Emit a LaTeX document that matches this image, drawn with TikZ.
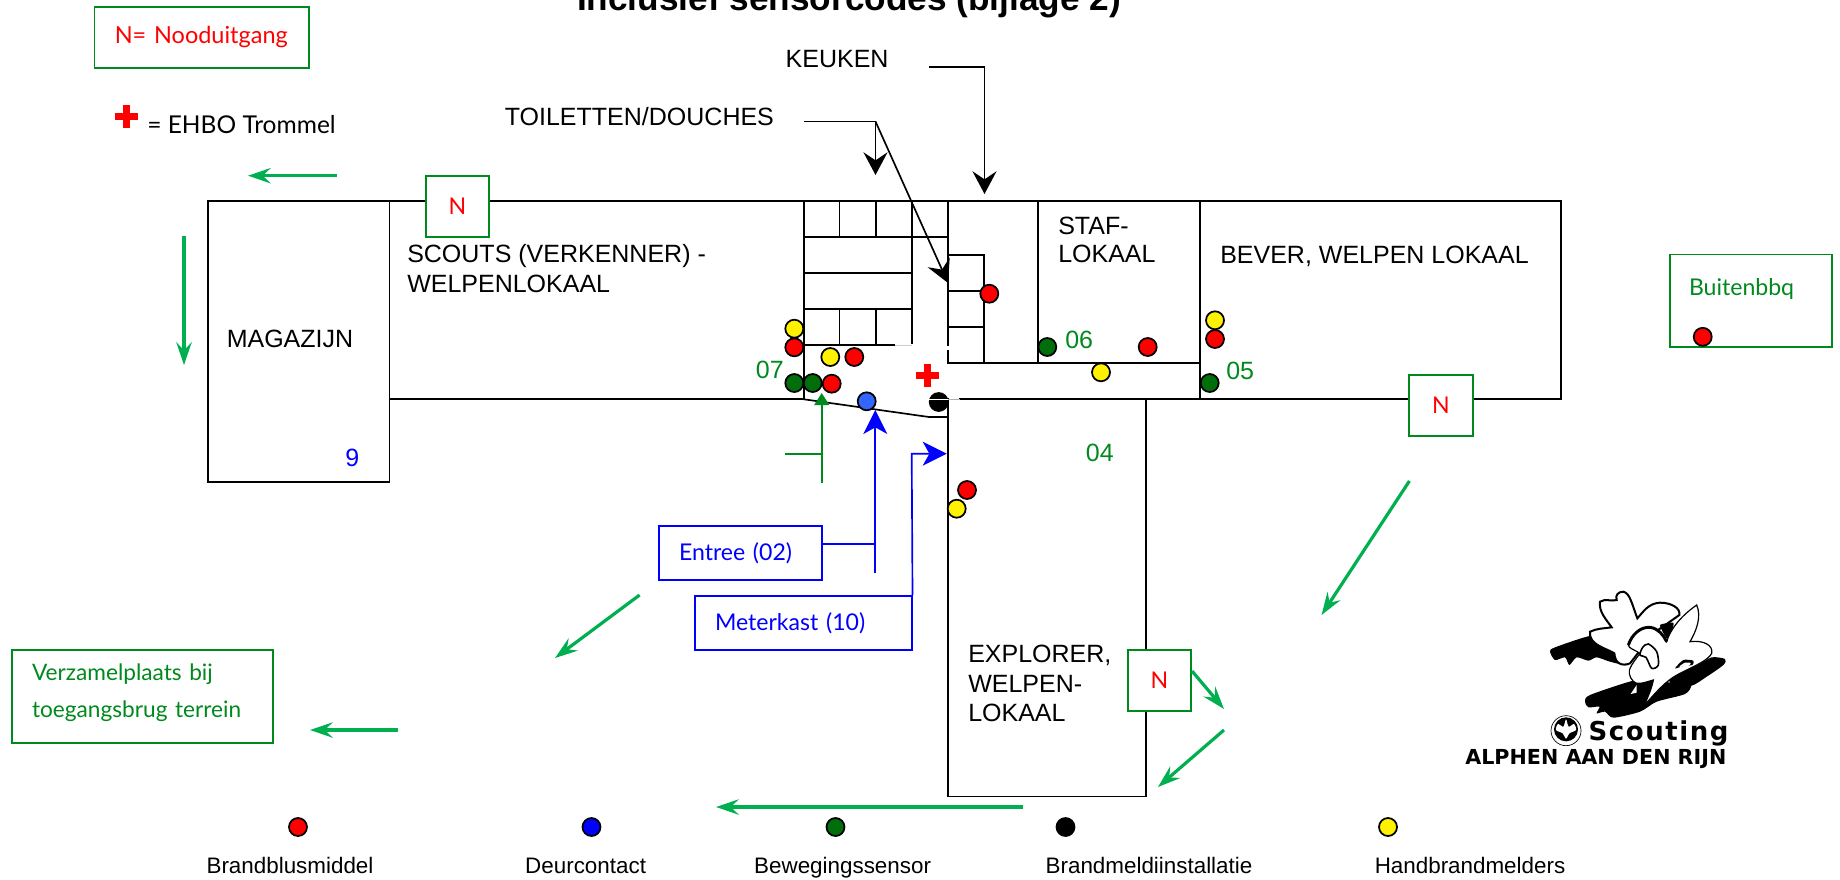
\documentclass[tikz,border=0pt]{standalone}
\usepackage{fontspec}
\setmainfont{Liberation Sans}
\newfontfamily\gill{Lato}
\newfontfamily\dvb{DejaVu Sans Bold}
\usetikzlibrary{arrows.meta}
\definecolor{dgreen}{HTML}{008A1E}
\definecolor{dotgreen}{HTML}{006E0A}
\definecolor{egreen}{HTML}{00B050}
\definecolor{pblue}{HTML}{0000FF}
\definecolor{lblue}{HTML}{3366FF}
\newcommand{\fs}[1]{\fontsize{#1}{#1}\selectfont}
% box: name, style, x1, y1, x2, y2, pad, text
\newcommand{\pxbox}[8]{%
  \pgfmathsetmacro{\bw}{(#5-#3)*0.75}\pgfmathsetmacro{\bh}{(#6-#4)*0.75}%
  \pgfmathsetmacro{\tw}{(#5-#3-2*#7)*0.75}%
  \node[#2,minimum width=\bw pt,minimum height=\bh pt,text width=\tw pt] (#1) at ({(#3+#5)/2},{(#4+#6)/2}) {#8};}
\newcommand{\redcross}[2]{%
  \fill[red] (#1-11.5,#2-3.5) rectangle (#1+11.5,#2+3.5);
  \fill[red] (#1-3.5,#2-11.5) rectangle (#1+3.5,#2+11.5);}
\tikzset{
  wall/.style={line width=1.25pt,black,line cap=rect},
  gbox/.style={draw=dgreen,line width=1.2pt,fill=white,inner sep=0pt,align=left,font=\gill\fs{17.3}},
  bbox/.style={draw=pblue,line width=1.2pt,fill=white,inner sep=0pt,align=left,font=\gill\fs{17.3},text=pblue},
  nbox/.style={gbox,align=center,text=red},
  dot/.style={circle,draw=black,line width=1.3pt,minimum size=13.5pt,inner sep=0pt},
  lab/.style={anchor=base west,inner sep=0pt,font=\fs{18.75}},
  num/.style={lab,text=dgreen},
  leg/.style={anchor=base,inner sep=0pt,font=\fs{16.8}},
  exitarrow/.style={draw=egreen,line width=2.4pt,-{Stealth[length=17pt,width=11.5pt,inset=6pt]}},
  blackarrow/.style={draw=black,line width=1.25pt,-{Stealth[length=17pt,width=18pt,inset=6pt]}},
  bluearrow/.style={draw=pblue,line width=1.25pt,-{Stealth[length=18pt,width=18pt,inset=5pt]}},
  greenarrow/.style={draw=dgreen,line width=1.25pt,-{Triangle[length=9pt,width=11pt]}},
}
\begin{document}
\begin{tikzpicture}[x=0.75pt,y=-0.75pt]
\useasboundingbox (0,0) rectangle (1840,879);
% title
\node[anchor=base,inner sep=0pt,font=\bfseries\fs{26.4}] (title) at (849,10) {Inclusief sensorcodes (bijlage 2)};
% walls
\draw[wall] (207.7,200.7) -- (1561,200.7) -- (1561,399.3) -- (960,399.3);
\draw[wall] (207.7,200.7) rectangle (389.6,482);
\draw[wall] (389.6,399.3) -- (804,399.3) -- (804,200.7);
\draw[wall] (804,399.3) -- (929,417) -- (948,417);
\draw[wall] (948,200.7) -- (948,345);
\draw[wall] (948,351) -- (948,363) -- (1200.3,363);
\draw[wall] (948,399.3) -- (948,796.5) -- (1146,796.5) -- (1146,399.3);
\draw[wall] (1038,200.7) -- (1038,363);
\draw[wall] (1200.3,200.7) -- (1200.3,399.3);
\draw[wall] (804,236.7) -- (948,236.7);
\draw[wall] (804,272.7) -- (911.7,272.7);
\draw[wall] (804,308.7) -- (911.7,308.7);
\draw[wall] (804,345) -- (895,345);
\draw[wall] (911.7,200.7) -- (911.7,343);
\draw[wall] (839.5,200.7) -- (839.5,236.7);
\draw[wall] (875.7,200.7) -- (875.7,236.7);
\draw[wall] (839.5,308.7) -- (839.5,345);
\draw[wall] (875.7,308.7) -- (875.7,345);
\draw[wall] (948,255) -- (984.3,255) -- (984.3,363);
\draw[wall] (948,290.7) -- (984.3,290.7);
\draw[wall] (948,326.7) -- (984.3,326.7);
% room labels
\node[lab] (scouts) at (407,262) {SCOUTS (VERKENNER) -};
\node[lab] (scouts2) at (407,292) {WELPENLOKAAL};
\node[lab] (mag) at (226.5,347) {MAGAZIJN};
\node[lab,text=pblue] (nine) at (345,466) {9};
\node[lab] (bever) at (1220,263) {BEVER, WELPEN LOKAAL};
\node[lab] (staf) at (1058,234) {STAF-};
\node[lab] (staf2) at (1058,262.7) {LOKAAL};
\node[lab] (expl) at (968,662) {EXPLORER,};
\node[lab] (expl2) at (968,692) {WELPEN-};
\node[lab] (expl3) at (968,721) {LOKAAL};
\node[num] (n07) at (755.7,378) {07};
\node[num] (n06) at (1065,348.7) {06};
\node[num] (n05) at (1226,379) {05};
\node[num] (n04) at (1085.7,461) {04};
\node[lab] (keuken) at (785.4,67) {KEUKEN};
\node[lab] (toil) at (504.6,125) {TOILETTEN/DOUCHES};
% boxes
\pxbox{nleg}{gbox,text=red,font=\gill\fs{17.6}}{94.3}{7}{308.7}{67.7}{20.5}{N= Nooduitgang}
\node[anchor=base west,inner sep=0pt,font=\gill\fs{18.4}] (ehbo) at (147,133) {= EHBO Trommel};
\redcross{126.7}{116.7}
\pxbox{n1}{nbox}{426}{176}{489}{237}{0}{N}
\pxbox{n2}{nbox}{1409}{375}{1473}{436}{0}{N}
\pxbox{n3}{nbox}{1128}{650}{1191}{711}{0}{N}
\pxbox{buiten}{gbox,text=dgreen,text depth=20pt}{1670}{254.6}{1832}{347}{19}{Buitenbbq}
\pxbox{verz}{gbox,text=dgreen,font=\gill\fontsize{17}{28}\selectfont}{12}{650}{273}{743}{20}{Verzamelplaats bij\\toegangsbrug terrein\par\vspace{6pt}}
\pxbox{entree}{bbox}{659}{525.7}{821.7}{580}{20}{Entree (02)}
\pxbox{meter}{bbox}{695}{596}{911.7}{649.7}{20}{Meterkast (10)}
% exit arrows
\coordinate (a1s) at (336.7,175.7); \coordinate (a1e) at (248,175.7);
\coordinate (a2s) at (184,236); \coordinate (a2e) at (184,365);
\coordinate (a3s) at (1409.4,481); \coordinate (a3e) at (1321.5,615);
\coordinate (a4s) at (639.6,595); \coordinate (a4e) at (555,658);
\coordinate (a5s) at (398,730); \coordinate (a5e) at (310,730);
\coordinate (a6s) at (1192,671); \coordinate (a6e) at (1224,709);
\coordinate (a7s) at (1224,730); \coordinate (a7e) at (1158,787);
\coordinate (a8s) at (1023,807); \coordinate (a8e) at (716,807);
\foreach \k in {1,...,8} {\draw[exitarrow] (a\k s) -- (a\k e);}
% pointer arrows
\coordinate (k1) at (929,67); \coordinate (k2) at (984.5,67); \coordinate (k3) at (984.5,194);
\draw[blackarrow] (k1) -- (k2) -- (k3);
\coordinate (t1) at (803.7,121.5); \coordinate (t2) at (875.5,121.5);
\coordinate (t3) at (875.5,175); \coordinate (t4) at (948,283);
\draw[line width=1.25pt] (t1) -- (t2);
\draw[blackarrow] (t2) -- (t3);
\draw[blackarrow] (t2) -- (t4);
\coordinate (e1) at (821.7,543.7); \coordinate (e2) at (875.3,543.7);
\coordinate (e3) at (875.3,573.3); \coordinate (e4) at (875.3,410);
\draw[draw=pblue,line width=1.25pt] (e1) -- (e2);
\draw[bluearrow] (e3) -- (e4);
\coordinate (m1) at (911.7,453.7); \coordinate (m2) at (946.7,453.7);
\draw[bluearrow] (meter.north east) -- (m1) -- (m2);
\coordinate (g1) at (821.7,483); \coordinate (g2) at (821.7,393);
\coordinate (g3) at (785,454); \coordinate (g4) at (821.7,454);
\draw[greenarrow] (g1) -- (g2);
\draw[draw=dgreen,line width=1.25pt] (g3) -- (g4);
% dots
\foreach \n/\c/\x/\y in {
 d1/yellow/794.3/328.7, d2/red/794.3/347.3, d3/yellow/830.3/357, d4/red/854.3/357,
 d5/dotgreen/794.3/383, d6/dotgreen/812.7/383, d7/red/831.7/383.7, d8/lblue/866.7/401.3,
 d9/black/938.7/402, d10/red/989.3/293.7, d11/dotgreen/1047.3/347, d12/red/1147.7/347,
 d13/yellow/1101/372.3, d14/yellow/1215/320.3, d15/red/1215/339, d16/dotgreen/1209.7/383,
 d17/red/967/490, d18/yellow/956.7/508.7, d19/red/1702.7/336.8,
 l1/red/298/827, l2/pblue/591.5/827, l3/dotgreen/835.5/827, l4/black/1065.5/827, l5/yellow/1388/827}
 {\node[dot,fill=\c] (\n) at (\x,\y) {};}
\draw[white,line width=0.8pt] (929,399.3) -- (948,399.3);
\draw[gray!60,line width=1.1pt] (948,399.3) -- (960,399.3);
\draw[white,line width=1pt] (895,345) -- (912,345);
\draw[gray!40,line width=0.7pt] (895,345) -- (912,345);
\redcross{927.3}{375.7}
% legend
\node[leg] (lt1) at (290,873) {Brandblusmiddel};
\node[leg] (lt2) at (585.6,873) {Deurcontact};
\node[leg] (lt3) at (842.6,873) {Bewegingssensor};
\node[leg] (lt4) at (1149,873) {Brandmeldiinstallatie};
\node[leg] (lt5) at (1470,873) {Handbrandmelders};
% logo
\begin{scope}[shift={(1440,570)},x=0.25pt,y=-0.25pt]
\fill[black] plot[smooth cycle,tension=0.45] coordinates {(330,245) (345,232) (455,197) (470,225) (520,250) (560,285) (510,275) (470,262) (445,272) (410,262) (388,285) (375,262) (345,270)};
\fill[black] plot[smooth cycle,tension=0.45] coordinates {(435,395) (450,375) (580,332) (650,330) (700,340) (752,345) (735,372) (650,395) (600,425) (520,443) (495,425) (470,430) (478,410) (445,412)};
\fill[black] plot[smooth cycle,tension=0.45] coordinates {(700,295) (770,285) (815,262) (855,267) (850,285) (800,320) (752,348) (690,340)};
% back fleur
\filldraw[fill=white,draw=black,line width=1.5pt] (480,95) .. controls (495,85) and (515,95) .. (530,90) .. controls (525,75) and (535,65) .. (550,65) .. controls (570,70) and (575,100) .. (592,145) .. controls (610,125) and (625,100) .. (660,98) .. controls (695,98) and (722,115) .. (718,135) -- (640,190) -- (570,280) .. controls (545,290) and (525,280) .. (523,250) .. controls (500,235) and (445,225) .. (450,185) .. controls (470,175) and (495,175) .. (515,172) .. controls (500,150) and (475,125) .. (480,95) -- cycle;
\fill[black] plot[smooth cycle,tension=0.3] coordinates {(660,165) (700,158) (695,185) (680,205)};
% front fleur
\filldraw[fill=white,draw=black,line width=0.9pt] (770,105) .. controls (785,140) and (770,180) .. (750,215) .. controls (790,210) and (820,225) .. (815,250) .. controls (805,270) and (770,285) .. (720,310) .. controls (690,325) and (665,345) .. (610,410) .. controls (625,380) and (635,355) .. (640,330) .. controls (620,335) and (605,342) .. (590,340) .. controls (575,335) and (565,315) .. (568,300) .. controls (575,280) and (590,265) .. (600,250) .. controls (585,240) and (565,235) .. (565,225) .. controls (575,195) and (600,170) .. (630,172) .. controls (655,175) and (670,195) .. (680,215) .. controls (690,180) and (720,140) .. (770,105) -- cycle;
\draw[black,line width=2.2pt] (565,225) .. controls (575,195) and (600,170) .. (630,172) .. controls (655,175) and (670,195) .. (680,215);
\fill[black] plot[smooth cycle,tension=0.4] coordinates {(705,295) (730,270) (760,272) (757,285) (730,288)};
\fill[white] plot[smooth cycle,tension=0.4] coordinates {(718,290) (735,278) (752,279) (745,288)};
\filldraw[fill=white,draw=black,line width=1.2pt] plot[smooth cycle,tension=0.5] coordinates {(608,232) (625,222) (650,245) (655,285) (635,295) (618,262) (600,255)};
\fill[white] (590,345) -- (572,372) -- (590,368) -- cycle;
% emblem
\draw[line width=0.5pt] (378,482) circle (45);
\fill[black] (378,478) circle (36);
\fill[white] plot[smooth cycle,tension=0.5] coordinates {(378,448) (386,470) (402,462) (408,480) (388,490) (378,506) (368,490) (348,480) (354,462) (370,470)};
\node[anchor=base west,inner sep=0pt,font=\dvb\fs{19.5}\addfontfeature{LetterSpace=6}] (scouting) at (445,510) {Scouting};
\node[anchor=base west,inner sep=0pt,font=\dvb\fs{15.5}] (alphen) at (75,583) {ALPHEN AAN DEN RIJN};
\end{scope}
\end{tikzpicture}
\end{document}
